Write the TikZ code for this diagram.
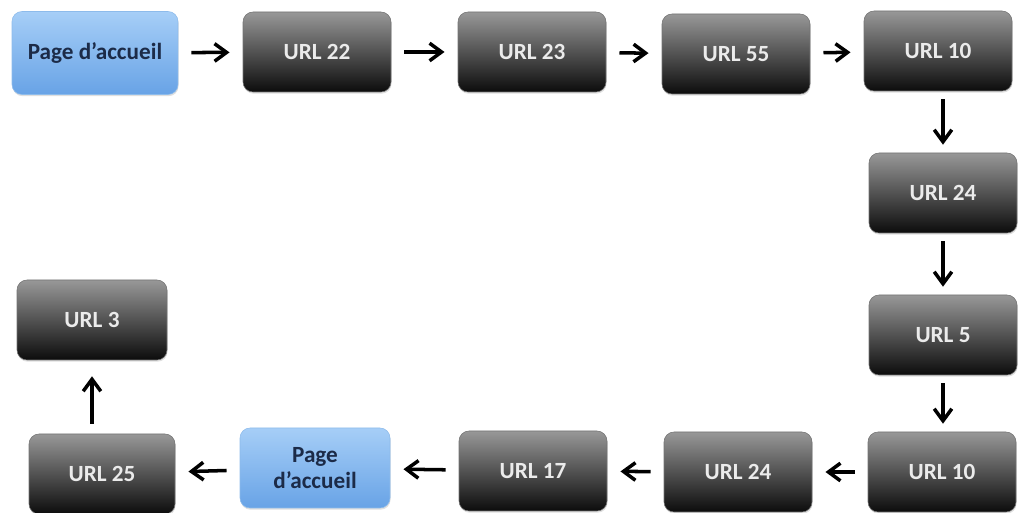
\documentclass[tikz,border=0pt]{standalone}
\usepackage{fontspec}
\setmainfont{Carlito}
\usetikzlibrary{arrows.meta,shadows}

\definecolor{urltop}{HTML}{989898}
\definecolor{urlbot}{HTML}{0C0C0C}
\definecolor{hometop}{HTML}{A6CEF7}
\definecolor{homebot}{HTML}{68A3E6}
\definecolor{homeline}{HTML}{8DBBEB}
\definecolor{hometext}{HTML}{1C2B48}

\tikzset{
  urlbox/.style={rounded corners=0.25cm, minimum width=3.7cm, minimum height=2cm,
    top color=urltop, bottom color=urlbot, draw=black!55, thin,
    text=white!92!black, font=\bfseries\fontsize{16.5}{19}\selectfont, align=center,
    drop shadow={opacity=0.25, shadow xshift=0.4pt, shadow yshift=-1.2pt}},
  homebox/.style={urlbox, top color=hometop, bottom color=homebot, draw=homeline,
    text=hometext},
  link/.style={-{Straight Barb[length=3mm,width=4.4mm]}, line width=2.5pt,
    shorten >=0.33cm, shorten <=0.33cm},
  vlink/.style={link, shorten >=0.2cm, shorten <=0.2cm}
}

\begin{document}
\begin{tikzpicture}
  \useasboundingbox (0,0) rectangle (25.55,12.825);
  % Top row
  \node[homebox, minimum width=4.15cm, minimum height=2.075cm] (home1) at (2.375,11.5) {Page d’accueil};
  \node[urlbox] (u22) at (7.925,11.525) {URL 22};
  \node[urlbox] (u23) at (13.3,11.525) {URL 23};
  \node[urlbox] (u55) at (18.4,11.475) {URL 55};
  \node[urlbox] (u10a) at (23.45,11.55) {URL 10};
  % Right column
  \node[urlbox] (u24a) at (23.575,8.0) {URL 24};
  \node[urlbox] (u5) at (23.575,4.45) {URL 5};
  % Bottom row
  \node[urlbox] (u10b) at (23.55,1.025) {URL 10};
  \node[urlbox] (u24b) at (18.45,1.025) {URL 24};
  \node[urlbox] (u17) at (13.325,1.05) {URL 17};
  \node[homebox, minimum width=3.75cm] (home2) at (7.875,1.125) {Page\\d’accueil};
  \node[urlbox, minimum width=3.65cm] (u25) at (2.55,0.975) {URL 25};
  % Left column
  \node[urlbox, minimum width=3.75cm] (u3) at (2.3,4.825) {URL 3};

  % Links
  \draw[link] (home1) -- (u22);
  \draw[link] (u22) -- (u23);
  \draw[link] (u23) -- (u55);
  \draw[link] (u55) -- (u10a);
  \draw[vlink] (u10a.south -| u24a) -- (u24a);
  \draw[vlink] (u24a) -- (u5);
  \draw[vlink] (u5) -- (u10b.north -| u5);
  \draw[link] (u10b) -- (u24b);
  \draw[link] (u24b) -- (u17);
  \draw[link] (u17) -- (home2);
  \draw[link] (home2) -- (u25);
  \draw[link, shorten >=0.4cm, shorten <=0.25cm] (u25.north -| u3) -- (u3);
\end{tikzpicture}
\end{document}
